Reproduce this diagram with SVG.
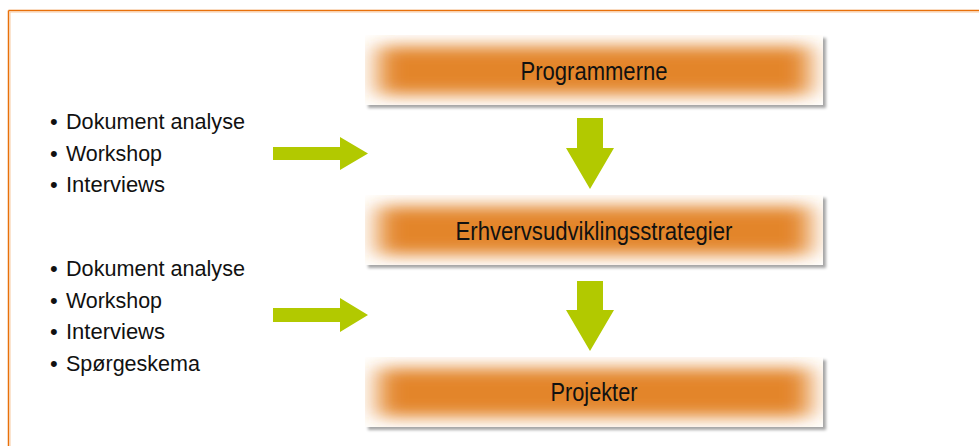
<svg xmlns="http://www.w3.org/2000/svg" width="979" height="446" viewBox="0 0 979 446">
  <style>
    .label { font-family: "Liberation Sans", Arial, sans-serif; font-size: 26px; fill: #111; text-anchor: middle; }
    .item { font-family: "Liberation Sans", Arial, sans-serif; font-size: 22px; fill: #111; }
    .arrow { fill: #B2C900; }
    .card { fill: #ffffff; }
    .glow { fill: #E3852A; }
  </style>
  <defs>
    <filter id="shadow" x="-5%" y="-20%" width="110%" height="150%">
      <feGaussianBlur in="SourceAlpha" stdDeviation="1.5"/>
      <feOffset dx="3" dy="3" result="b"/>
      <feFlood flood-color="#000" flood-opacity="0.35"/>
      <feComposite in2="b" operator="in"/>
      <feMerge><feMergeNode/><feMergeNode in="SourceGraphic"/></feMerge>
    </filter>
    <filter id="soft" x="-10%" y="-60%" width="120%" height="220%">
      <feGaussianBlur stdDeviation="13 8"/>
    </filter>
    <clipPath id="clip1"><rect x="365" y="35" width="458" height="70"/></clipPath>
    <clipPath id="clip2"><rect x="365" y="195" width="458" height="70"/></clipPath>
    <clipPath id="clip3"><rect x="365" y="357" width="458" height="70"/></clipPath>
  </defs>

  <!-- frame -->
  <g id="frame">
    <line x1="8.5" y1="10.5" x2="979" y2="10.5" stroke="#E8700A" stroke-width="1.5"/>
    <line x1="8.5" y1="10.5" x2="8.5" y2="446" stroke="#E8700A" stroke-width="1.5"/>
    <line x1="10" y1="12" x2="979" y2="12" stroke="#F7C9A0" stroke-width="1"/>
    <line x1="10" y1="12" x2="10" y2="446" stroke="#F7C9A0" stroke-width="1"/>
  </g>

  <!-- stages -->
  <g id="node-programmerne">
    <rect class="card" x="365" y="35" width="458" height="70" filter="url(#shadow)"/>
    <g clip-path="url(#clip1)"><rect class="glow" x="378" y="46" width="432" height="49" filter="url(#soft)"/></g>
    <text class="label" x="594" y="80" textLength="147" lengthAdjust="spacingAndGlyphs">Programmerne</text>
  </g>
  <g id="node-strategier">
    <rect class="card" x="365" y="195" width="458" height="70" filter="url(#shadow)"/>
    <g clip-path="url(#clip2)"><rect class="glow" x="378" y="206" width="432" height="49" filter="url(#soft)"/></g>
    <text class="label" x="594" y="240" textLength="277" lengthAdjust="spacingAndGlyphs">Erhvervsudviklingsstrategier</text>
  </g>
  <g id="node-projekter">
    <rect class="card" x="365" y="357" width="458" height="70" filter="url(#shadow)"/>
    <g clip-path="url(#clip3)"><rect class="glow" x="378" y="368" width="432" height="49" filter="url(#soft)"/></g>
    <text class="label" x="594" y="401" textLength="87" lengthAdjust="spacingAndGlyphs">Projekter</text>
  </g>

  <!-- method lists -->
  <g id="methods-1">
    <text class="item" x="50" y="129">•</text>
    <text class="item" x="66" y="129" textLength="179" lengthAdjust="spacingAndGlyphs">Dokument analyse</text>
    <text class="item" x="50" y="160.5">•</text>
    <text class="item" x="66" y="160.5" textLength="96" lengthAdjust="spacingAndGlyphs">Workshop</text>
    <text class="item" x="50" y="192">•</text>
    <text class="item" x="66" y="192" textLength="99" lengthAdjust="spacingAndGlyphs">Interviews</text>
  </g>
  <g id="methods-2">
    <text class="item" x="50" y="276">•</text>
    <text class="item" x="66" y="276" textLength="179" lengthAdjust="spacingAndGlyphs">Dokument analyse</text>
    <text class="item" x="50" y="307.5">•</text>
    <text class="item" x="66" y="307.5" textLength="96" lengthAdjust="spacingAndGlyphs">Workshop</text>
    <text class="item" x="50" y="339">•</text>
    <text class="item" x="66" y="339" textLength="99" lengthAdjust="spacingAndGlyphs">Interviews</text>
    <text class="item" x="50" y="370.5">•</text>
    <text class="item" x="66" y="370.5" textLength="134" lengthAdjust="spacingAndGlyphs">Spørgeskema</text>
  </g>

  <!-- connectors: block arrows -->
  <g id="connectors">
    <polygon class="arrow" points="273,147 340,147 340,137 368,153.5 340,170 340,160 273,160"/>
    <polygon class="arrow" points="273,308 340,308 340,298 368,315 340,332 340,322 273,322"/>
    <polygon class="arrow" points="577,118 603,118 603,148 614,148 590,189 566,148 577,148"/>
    <polygon class="arrow" points="577,281 603,281 603,310 614,310 590,351 566,310 577,310"/>
  </g>
</svg>
